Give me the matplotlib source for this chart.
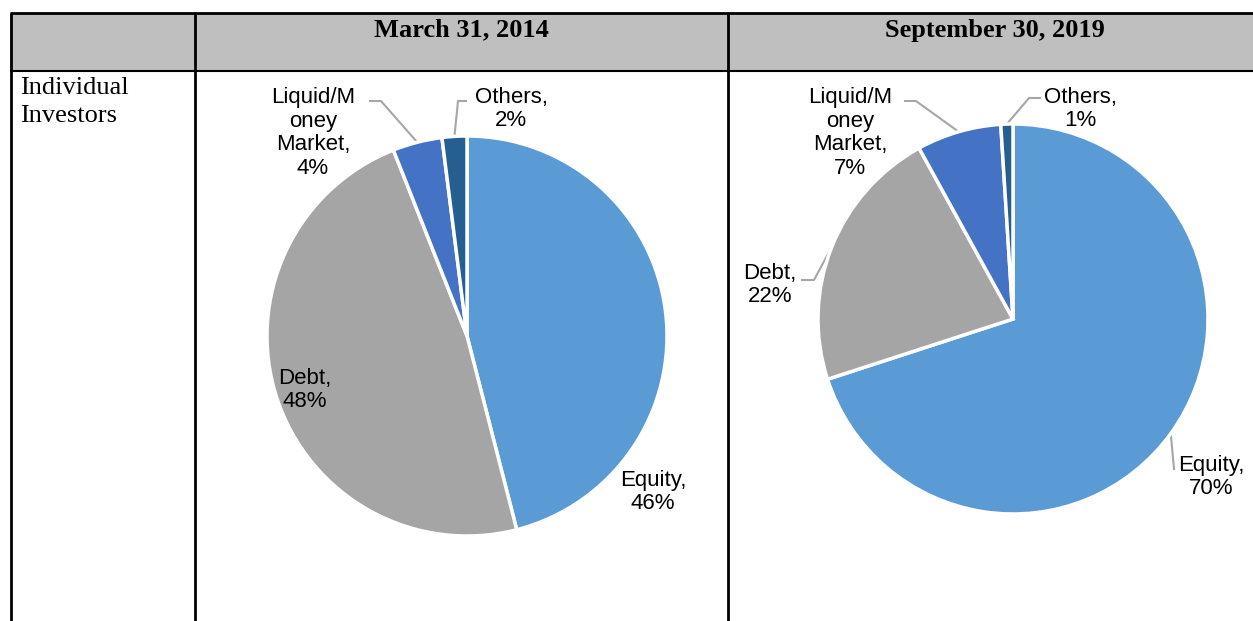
import numpy as np
import matplotlib
matplotlib.use("Agg")
import matplotlib.pyplot as plt

W, H = 1253, 621

categories = ["Equity", "Debt", "Liquid/M\noney\nMarket", "Others"]
share_2014 = [46, 48, 4, 2]
share_2019 = [70, 22, 7, 1]
headers = ["March 31, 2014", "September 30, 2019"]
row_label = "Individual\nInvestors"

colors = ["#5B9BD5", "#A5A5A5", "#4472C4", "#255E91"]
leader_grey = "#A6A6A6"

fig = plt.figure(figsize=(W / 100, H / 100), dpi=100)
ax = fig.add_axes([0, 0, 1, 1])


def py(y):
    # pixel row (from top) -> data y
    return H - y


# table frame
ax.fill_between([10, W], py(71), py(13), color="#BFBFBF", lw=0, zorder=0)
ax.plot([10, W], [py(13), py(13)], color="black", lw=2, solid_capstyle="butt")
ax.plot([10, W], [py(71), py(71)], color="black", lw=1.5, solid_capstyle="butt")
for x in (11, 195, 728):
    ax.plot([x, x], [py(13), 0], color="black", lw=2, solid_capstyle="butt")

ax.text(461, py(30), headers[0], ha="center", va="center",
        family="Liberation Serif", weight="bold", fontsize=19)
ax.text(995, py(30), headers[1], ha="center", va="center",
        family="Liberation Serif", weight="bold", fontsize=19)
ax.text(20, py(77), row_label, ha="left", va="top",
        family="Liberation Serif", fontsize=19, linespacing=1.38)

# pies: values, center px, radius, label positions, leader elbow points
pies = [
    (share_2014, (467, 336), 200,
     [(653, 492), (305, 390), (313, 133), (511, 109)],
     [None, None, [(370, 101), (381, 101)], [(466, 101), (458, 101)]]),
    (share_2019, (1013, 319), 195,
     [(1211, 477), (770, 285), (850, 133), (1080, 109)],
     [[(1174, 469), (1174, 469)], [(802, 280), (814, 280)],
      [(905, 101), (916, 101)], [(1040, 98), (1029, 98)]]),
]

for vals, (cx, cy), r, label_pos, leaders in pies:
    wedges, _ = ax.pie(vals, colors=colors, startangle=90, counterclock=False,
                       center=(cx, py(cy)), radius=r,
                       wedgeprops=dict(edgecolor="white", linewidth=2.5))
    for w, name, v, (lx, ly), lead in zip(wedges, categories, vals, label_pos, leaders):
        ax.text(lx, py(ly), f"{name},\n{v}%", ha="center", va="center",
                family="Liberation Sans", fontsize=16, linespacing=1.15)
        if lead is not None:
            mid = np.deg2rad((w.theta1 + w.theta2) / 2)
            ex = cx + r * np.cos(mid)
            ey = py(cy) + r * np.sin(mid)
            xs = [lead[0][0], lead[1][0], ex]
            ys = [py(lead[0][1]), py(lead[1][1]), ey]
            ax.plot(xs, ys, color=leader_grey, lw=1.5, zorder=0.5)

ax.set_xlim(0, W)
ax.set_ylim(0, H)
ax.set_aspect("auto")
ax.axis("off")

fig.savefig("out.png", dpi=100)
